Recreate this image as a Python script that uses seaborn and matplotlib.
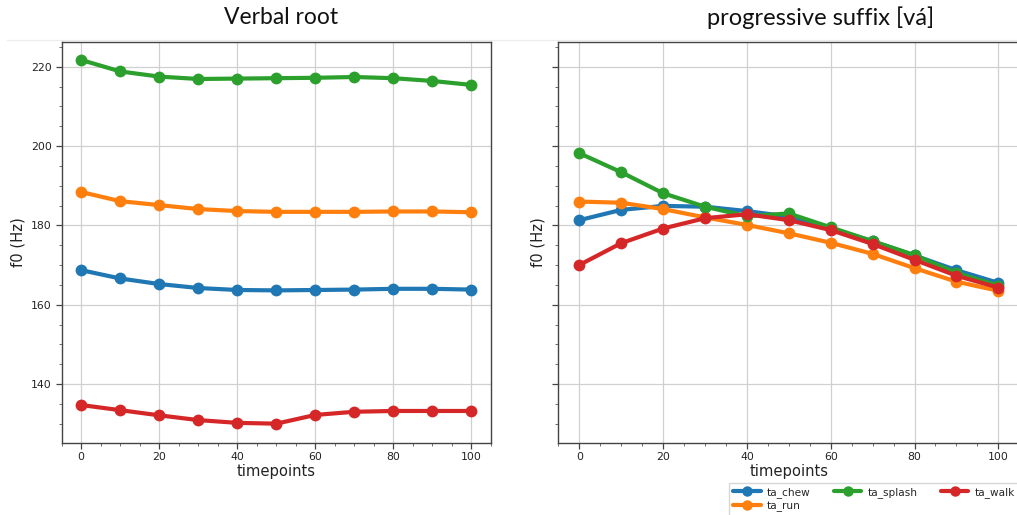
import matplotlib
matplotlib.use("Agg")
import matplotlib.pyplot as plt
from matplotlib.lines import Line2D
from matplotlib.ticker import AutoMinorLocator, MultipleLocator
import numpy as np
import pandas as pd
import seaborn as sns

# Normalised timepoints (% of segment duration)
timepoints = [0, 10, 20, 30, 40, 50, 60, 70, 80, 90, 100]
words = ["ta_chew", "ta_run", "ta_splash", "ta_walk"]

# Mean f0 (Hz) over the verbal root
root_chew = [168.7, 166.6, 165.2, 164.2, 163.7, 163.6, 163.7, 163.8, 164.0, 164.0, 163.8]
root_run = [188.4, 186.1, 185.1, 184.1, 183.6, 183.4, 183.4, 183.4, 183.5, 183.5, 183.3]
root_splash = [221.7, 218.8, 217.5, 216.9, 217.0, 217.1, 217.2, 217.4, 217.1, 216.4, 215.4]
root_walk = [134.7, 133.4, 132.1, 130.9, 130.2, 130.0, 132.2, 133.0, 133.2, 133.2, 133.2]

# Mean f0 (Hz) over the progressive suffix [vá]
suffix_chew = [181.3, 183.9, 184.9, 184.7, 183.6, 182.2, 179.2, 176.0, 172.4, 168.7, 165.5]
suffix_run = [186.0, 185.7, 184.1, 182.0, 180.1, 178.0, 175.6, 172.8, 169.2, 165.8, 163.5]
suffix_splash = [198.2, 193.4, 188.1, 184.7, 182.3, 183.0, 179.5, 176.0, 172.5, 168.0, 164.8]
suffix_walk = [170.0, 175.5, 179.2, 181.8, 182.8, 181.3, 178.8, 175.3, 171.3, 167.3, 164.3]


def long_form(series):
    frames = []
    for word, vals in zip(words, series):
        frames.append(pd.DataFrame({"timepoints": timepoints, "f0": vals, "word": word}))
    return pd.concat(frames, ignore_index=True)


root_df = long_form([root_chew, root_run, root_splash, root_walk])
suffix_df = long_form([suffix_chew, suffix_run, suffix_splash, suffix_walk])

sns.set_style("whitegrid")
plt.rcParams["font.family"] = ["DejaVu Sans"]

palette = sns.color_palette("tab10", 4)
W, H = 1017, 515
fig = plt.figure(figsize=(W / 100, H / 100), dpi=100)

ax1 = fig.add_axes([61.7 / W, 1 - 442.7 / H, 429.3 / W, 401 / H])
ax2 = fig.add_axes([558.3 / W, 1 - 442.7 / H, 461 / W, 401 / H], sharey=ax1)

line_kws = dict(x="timepoints", y="f0", hue="word", hue_order=words, palette=palette,
                marker="o", markersize=8.5, markeredgewidth=0, linewidth=3,
                legend=False)
sns.lineplot(data=root_df, ax=ax1, **line_kws)
sns.lineplot(data=suffix_df, ax=ax2, **line_kws)

for ax in (ax1, ax2):
    ax.set_xlim(-5, 105)
    ax.set_ylim(125.2, 226.3)
    ax.xaxis.set_major_locator(MultipleLocator(20))
    ax.yaxis.set_major_locator(MultipleLocator(20))
    ax.xaxis.set_minor_locator(AutoMinorLocator(4))
    ax.yaxis.set_minor_locator(AutoMinorLocator(4))
    ax.grid(True, which="major", color="#d0d0d0", linewidth=0.9)
    ax.grid(False, which="minor")
    for sp in ax.spines.values():
        sp.set_color("#444444")
        sp.set_linewidth(1.0)
    ax.tick_params(which="major", direction="out", length=4, width=0.9,
                   color="#444444", labelsize=7.8, labelcolor="#222222",
                   bottom=True, left=True, pad=3)
    ax.tick_params(which="minor", direction="out", length=2, width=0.6,
                   color="#555555", bottom=True, left=True)
    ax.set_xlabel("timepoints", fontsize=10.6, color="#222222", labelpad=1)
    ax.set_ylabel("f0 (Hz)", fontsize=10.6, color="#222222", labelpad=4)

ax2.tick_params(axis="y", labelleft=False)
ax2.set_ylabel("f0 (Hz)", fontsize=10.6, color="#222222", labelpad=4)

handles = [Line2D([0], [0], color=c, linewidth=3, marker="o", markersize=7.5,
                  markeredgewidth=0) for c in palette]
ax2.legend(handles, words, ncol=3, loc="upper right", bbox_to_anchor=(1.0, -0.1),
           borderaxespad=0, fontsize=7.6, frameon=True, handlelength=2.6,
           columnspacing=2.2, handletextpad=0.6, labelspacing=0.3,
           edgecolor="#cccccc", fancybox=False)

# thin rule along the top of the panels
fig.add_artist(Line2D([7 / W, 1.0], [1 - 39.5 / H, 1 - 39.5 / H],
                      color="#ececec", linewidth=0.8))

fig.text(281 / W, 1 - 18 / H, "Verbal root", ha="center", va="center",
         fontsize=16.5, family=["Lato", "DejaVu Sans"], color="#111111")
fig.text(821 / W, 1 - 18 / H, "progressive suffix [vá]", ha="center", va="center",
         fontsize=17, family=["Lato", "DejaVu Sans"], color="#111111")

fig.savefig("out.png", dpi=100)
